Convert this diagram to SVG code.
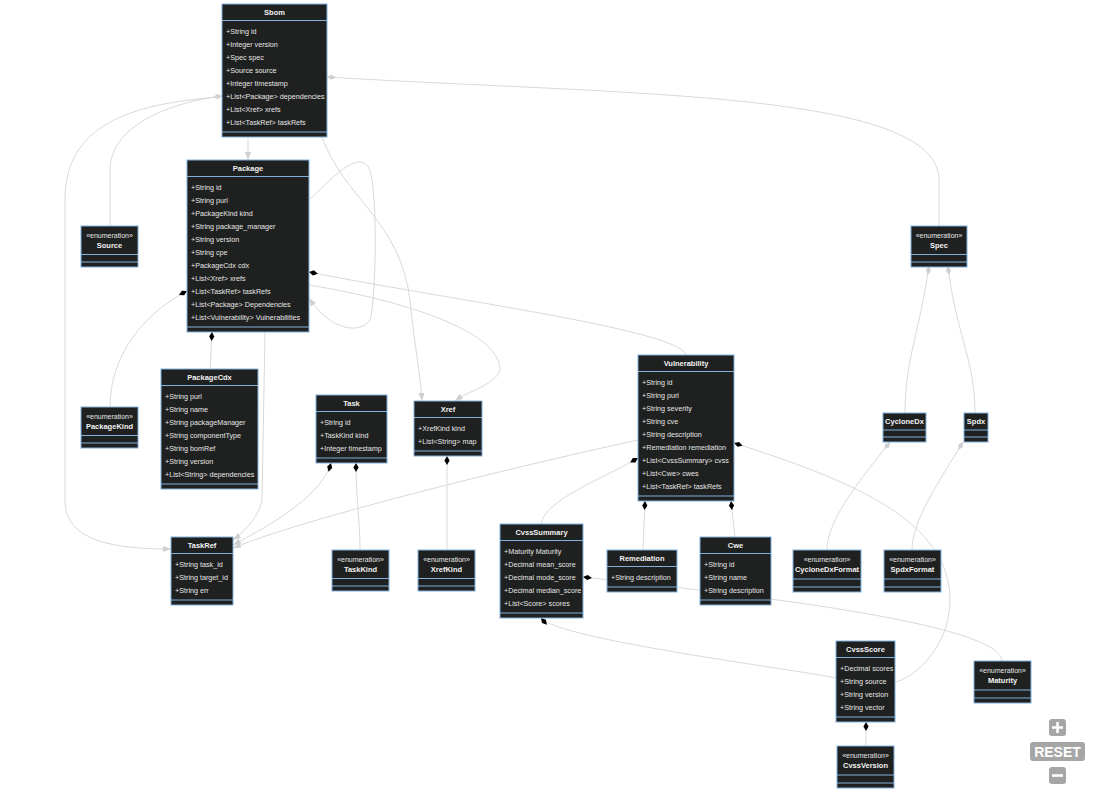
<svg xmlns="http://www.w3.org/2000/svg" width="1096" height="792" viewBox="0 0 1096 792">
<defs>
<style>
.box{fill:#1f2020;stroke:#81B1DB;stroke-width:1}
.dv{stroke:#81B1DB;stroke-width:1}
.t{font-family:"Liberation Sans",Arial,sans-serif;font-size:7.5px;font-weight:bold;fill:#f2f2f2;text-anchor:middle}
.s{font-family:"Liberation Sans",Arial,sans-serif;font-size:7px;fill:#e6e6e6;text-anchor:middle}
.a{font-family:"Liberation Sans",Arial,sans-serif;font-size:7.2px;fill:#e6e6e6}
.e{fill:none;stroke:#d9d9d9;stroke-width:1}
.comp{marker-start:url(#comp)}
.agg{marker-start:url(#agg)}
.arr{marker-end:url(#arr)}
.ctl{fill:#a6a6a6}
</style>
<marker id="comp" viewBox="-1 -4 12 8" refX="0" refY="0" markerWidth="12" markerHeight="8" markerUnits="userSpaceOnUse" orient="auto">
<path d="M0,0 L4.5,-2.6 L9,0 L4.5,2.6 Z" fill="#000"/>
</marker>
<marker id="agg" viewBox="-1 -4 12 8" refX="0" refY="0" markerWidth="12" markerHeight="8" markerUnits="userSpaceOnUse" orient="auto">
<path d="M0,0 L4.5,-2.6 L9,0 L4.5,2.6 Z" fill="#d0d0d0"/>
</marker>
<marker id="arr" viewBox="0 -4 9 8" refX="8" refY="0" markerWidth="9" markerHeight="8" markerUnits="userSpaceOnUse" orient="auto">
<path d="M0,-3 L8,0 L0,3 Z" fill="#cfcfcf"/>
</marker>
</defs>
<rect width="1096" height="792" fill="#fff"/>

<g id="connectors">
<path class="e agg" d="M222,96 C160,104 110,130 110,170 L110,226"/>
<path class="e" d="M218,97 C130,104 65,125 65,200 L65,500 C65,540 110,549 171,549" marker-end="url(#arr)"/>
<path class="e arr" d="M248,137 L248,160"/>
<path class="e agg" d="M327,77 C620,95 939,90 939,180 L939,226"/>
<path class="e arr" d="M322,137 C345,200 400,220 410,300 C415,350 420,370 422,401"/>
<path class="e arr" d="M309,200 C340,170 360,150 370,170 C378,200 376,300 370,320 C360,335 330,330 309,298"/>
<path class="e comp" d="M309,272 C450,300 680,330 686,355"/>
<path class="e arr" d="M309,285 C400,300 500,330 500,370 C495,385 470,390 455,401"/>
<path class="e comp" d="M187,291 C150,310 110,350 110,407"/>
<path class="e comp" d="M212,332 L210,369"/>
<path class="e arr" d="M265,332 L262,500 C258,520 240,535 233,540"/>
<path class="e comp arr" d="M331,463 C320,500 260,530 233,545"/>
<path class="e comp" d="M356,463 C356,500 360,520 360,550"/>
<path class="e comp" d="M447,456 L447,550"/>
<path class="e arr" d="M638,440 C500,470 300,520 233,548"/>
<path class="e comp" d="M638,458 C600,480 545,500 541,524"/>
<path class="e comp" d="M645,501 L643,550"/>
<path class="e comp" d="M731,501 L735,537"/>
<path class="e comp" d="M734,443 C850,480 950,520 950,600 C950,650 910,680 895,682"/>
<path class="e comp" d="M583,577 C700,590 1000,620 1002,661"/>
<path class="e comp" d="M541,618 C560,640 800,670 836,678"/>
<path class="e comp" d="M866,722 L866,746"/>
<path class="e agg" d="M929,266 C920,330 905,360 905,413"/>
<path class="e agg" d="M948,266 C955,330 975,360 975,413"/>
<path class="e agg" d="M890,442 C860,480 827,520 827,550"/>
<path class="e agg" d="M963,442 C940,480 912,520 912,550"/>
</g>

<g id="Sbom">
<rect class="box" x="222" y="4" width="105" height="133"/>
<text class="t" x="274.5" y="15">Sbom</text>
<line class="dv" x1="222" y1="20.5" x2="327" y2="20.5"/>
<text class="a" x="226" y="33.5">+String id</text>
<text class="a" x="226" y="46.5">+Integer version</text>
<text class="a" x="226" y="59.5">+Spec spec</text>
<text class="a" x="226" y="72.5">+Source source</text>
<text class="a" x="226" y="85.5">+Integer timestamp</text>
<text class="a" x="226" y="98.5">+List&lt;Package&gt; dependencies</text>
<text class="a" x="226" y="111.5">+List&lt;Xref&gt; xrefs</text>
<text class="a" x="226" y="124.5">+List&lt;TaskRef&gt; taskRefs</text>
<line class="dv" x1="222" y1="132" x2="327" y2="132"/>
</g>

<g id="Package">
<rect class="box" x="187" y="160" width="122" height="172"/>
<text class="t" x="248" y="171">Package</text>
<line class="dv" x1="187" y1="176.5" x2="309" y2="176.5"/>
<text class="a" x="191" y="189.5">+String id</text>
<text class="a" x="191" y="202.5">+String purl</text>
<text class="a" x="191" y="215.5">+PackageKind kind</text>
<text class="a" x="191" y="228.5">+String package_manager</text>
<text class="a" x="191" y="241.5">+String version</text>
<text class="a" x="191" y="254.5">+String cpe</text>
<text class="a" x="191" y="267.5">+PackageCdx cdx</text>
<text class="a" x="191" y="280.5">+List&lt;Xref&gt; xrefs</text>
<text class="a" x="191" y="293.5">+List&lt;TaskRef&gt; taskRefs</text>
<text class="a" x="191" y="306.5">+List&lt;Package&gt; Dependencies</text>
<text class="a" x="191" y="319.5">+List&lt;Vulnerability&gt; Vulnerabilities</text>
<line class="dv" x1="187" y1="327" x2="309" y2="327"/>
</g>

<g id="Source">
<rect class="box" x="81" y="226" width="57" height="41"/>
<text class="s" x="109.5" y="237.5">«enumeration»</text>
<text class="t" x="109.5" y="248">Source</text>
<line class="dv" x1="81" y1="254.5" x2="138" y2="254.5"/>
<line class="dv" x1="81" y1="262" x2="138" y2="262"/>
</g>

<g id="Spec">
<rect class="box" x="911" y="226" width="56" height="41"/>
<text class="s" x="939" y="237.5">«enumeration»</text>
<text class="t" x="939" y="248">Spec</text>
<line class="dv" x1="911" y1="254.5" x2="967" y2="254.5"/>
<line class="dv" x1="911" y1="262" x2="967" y2="262"/>
</g>

<g id="PackageKind">
<rect class="box" x="81" y="407" width="57" height="41"/>
<text class="s" x="109.5" y="418.5">«enumeration»</text>
<text class="t" x="109.5" y="429">PackageKind</text>
<line class="dv" x1="81" y1="435.5" x2="138" y2="435.5"/>
<line class="dv" x1="81" y1="443" x2="138" y2="443"/>
</g>

<g id="PackageCdx">
<rect class="box" x="161" y="369" width="97" height="120"/>
<text class="t" x="209.5" y="380">PackageCdx</text>
<line class="dv" x1="161" y1="385.5" x2="258" y2="385.5"/>
<text class="a" x="165" y="398.5">+String purl</text>
<text class="a" x="165" y="411.5">+String name</text>
<text class="a" x="165" y="424.5">+String packageManager</text>
<text class="a" x="165" y="437.5">+String componentType</text>
<text class="a" x="165" y="450.5">+String bomRef</text>
<text class="a" x="165" y="463.5">+String version</text>
<text class="a" x="165" y="476.5">+List&lt;String&gt; dependencies</text>
<line class="dv" x1="161" y1="484" x2="258" y2="484"/>
</g>

<g id="Task">
<rect class="box" x="316" y="395" width="71" height="68"/>
<text class="t" x="351.5" y="406">Task</text>
<line class="dv" x1="316" y1="411.5" x2="387" y2="411.5"/>
<text class="a" x="320" y="424.5">+String id</text>
<text class="a" x="320" y="437.5">+TaskKind kind</text>
<text class="a" x="320" y="450.5">+Integer timestamp</text>
<line class="dv" x1="316" y1="458" x2="387" y2="458"/>
</g>

<g id="Xref">
<rect class="box" x="414" y="401" width="68" height="55"/>
<text class="t" x="448" y="412">Xref</text>
<line class="dv" x1="414" y1="417.5" x2="482" y2="417.5"/>
<text class="a" x="418" y="430.5">+XrefKind kind</text>
<text class="a" x="418" y="443.5">+List&lt;String&gt; map</text>
<line class="dv" x1="414" y1="451" x2="482" y2="451"/>
</g>

<g id="Vulnerability">
<rect class="box" x="638" y="355" width="96" height="146"/>
<text class="t" x="686" y="366">Vulnerability</text>
<line class="dv" x1="638" y1="371.5" x2="734" y2="371.5"/>
<text class="a" x="642" y="384.5">+String id</text>
<text class="a" x="642" y="397.5">+String purl</text>
<text class="a" x="642" y="410.5">+String severity</text>
<text class="a" x="642" y="423.5">+String cve</text>
<text class="a" x="642" y="436.5">+String description</text>
<text class="a" x="642" y="449.5">+Remediation remediation</text>
<text class="a" x="642" y="462.5">+List&lt;CvssSummary&gt; cvss</text>
<text class="a" x="642" y="475.5">+List&lt;Cwe&gt; cwes</text>
<text class="a" x="642" y="488.5">+List&lt;TaskRef&gt; taskRefs</text>
<line class="dv" x1="638" y1="496" x2="734" y2="496"/>
</g>

<g id="CycloneDx">
<rect class="box" x="883" y="413" width="43" height="29"/>
<text class="t" x="904.5" y="424">CycloneDx</text>
<line class="dv" x1="883" y1="430" x2="926" y2="430"/>
<line class="dv" x1="883" y1="437" x2="926" y2="437"/>
</g>

<g id="Spdx">
<rect class="box" x="964" y="413" width="24" height="29"/>
<text class="t" x="976" y="424">Spdx</text>
<line class="dv" x1="964" y1="430" x2="988" y2="430"/>
<line class="dv" x1="964" y1="437" x2="988" y2="437"/>
</g>

<g id="TaskRef">
<rect class="box" x="171" y="537" width="62" height="68"/>
<text class="t" x="202" y="548">TaskRef</text>
<line class="dv" x1="171" y1="553.5" x2="233" y2="553.5"/>
<text class="a" x="175" y="566.5">+String task_id</text>
<text class="a" x="175" y="579.5">+String target_id</text>
<text class="a" x="175" y="592.5">+String err</text>
<line class="dv" x1="171" y1="600" x2="233" y2="600"/>
</g>

<g id="TaskKind">
<rect class="box" x="332" y="550" width="57" height="41"/>
<text class="s" x="360.5" y="561.5">«enumeration»</text>
<text class="t" x="360.5" y="572">TaskKind</text>
<line class="dv" x1="332" y1="578.5" x2="389" y2="578.5"/>
<line class="dv" x1="332" y1="586" x2="389" y2="586"/>
</g>

<g id="XrefKind">
<rect class="box" x="418" y="550" width="57" height="41"/>
<text class="s" x="446.5" y="561.5">«enumeration»</text>
<text class="t" x="446.5" y="572">XrefKind</text>
<line class="dv" x1="418" y1="578.5" x2="475" y2="578.5"/>
<line class="dv" x1="418" y1="586" x2="475" y2="586"/>
</g>

<g id="CvssSummary">
<rect class="box" x="500" y="524" width="83" height="94"/>
<text class="t" x="541.5" y="535">CvssSummary</text>
<line class="dv" x1="500" y1="540.5" x2="583" y2="540.5"/>
<text class="a" x="504" y="553.5">+Maturity Maturity</text>
<text class="a" x="504" y="566.5">+Decimal mean_score</text>
<text class="a" x="504" y="579.5">+Decimal mode_score</text>
<text class="a" x="504" y="592.5">+Decimal median_score</text>
<text class="a" x="504" y="605.5">+List&lt;Score&gt; scores</text>
<line class="dv" x1="500" y1="613" x2="583" y2="613"/>
</g>

<g id="Remediation">
<rect class="box" x="607" y="550" width="70" height="42"/>
<text class="t" x="642" y="561">Remediation</text>
<line class="dv" x1="607" y1="566.5" x2="677" y2="566.5"/>
<text class="a" x="611" y="579.5">+String description</text>
<line class="dv" x1="607" y1="587" x2="677" y2="587"/>
</g>

<g id="Cwe">
<rect class="box" x="700" y="537" width="71" height="68"/>
<text class="t" x="735.5" y="548">Cwe</text>
<line class="dv" x1="700" y1="553.5" x2="771" y2="553.5"/>
<text class="a" x="704" y="566.5">+String id</text>
<text class="a" x="704" y="579.5">+String name</text>
<text class="a" x="704" y="592.5">+String description</text>
<line class="dv" x1="700" y1="600" x2="771" y2="600"/>
</g>

<g id="CycloneDxFormat">
<rect class="box" x="793" y="550" width="68" height="42"/>
<text class="s" x="827" y="561.5">«enumeration»</text>
<text class="t" x="827" y="572">CycloneDxFormat</text>
<line class="dv" x1="793" y1="579" x2="861" y2="579"/>
<line class="dv" x1="793" y1="587" x2="861" y2="587"/>
</g>

<g id="SpdxFormat">
<rect class="box" x="884" y="550" width="57" height="42"/>
<text class="s" x="912.5" y="561.5">«enumeration»</text>
<text class="t" x="912.5" y="572">SpdxFormat</text>
<line class="dv" x1="884" y1="579" x2="941" y2="579"/>
<line class="dv" x1="884" y1="587" x2="941" y2="587"/>
</g>

<g id="CvssScore">
<rect class="box" x="836" y="641" width="59" height="81"/>
<text class="t" x="865.5" y="652">CvssScore</text>
<line class="dv" x1="836" y1="657.5" x2="895" y2="657.5"/>
<text class="a" x="840" y="670.5">+Decimal scores</text>
<text class="a" x="840" y="683.5">+String source</text>
<text class="a" x="840" y="696.5">+String version</text>
<text class="a" x="840" y="709.5">+String vector</text>
<line class="dv" x1="836" y1="717" x2="895" y2="717"/>
</g>

<g id="Maturity">
<rect class="box" x="974" y="661" width="57" height="42"/>
<text class="s" x="1002.5" y="672.5">«enumeration»</text>
<text class="t" x="1002.5" y="683">Maturity</text>
<line class="dv" x1="974" y1="690" x2="1031" y2="690"/>
<line class="dv" x1="974" y1="698" x2="1031" y2="698"/>
</g>

<g id="CvssVersion">
<rect class="box" x="837" y="746" width="57" height="42"/>
<text class="s" x="865.5" y="757.5">«enumeration»</text>
<text class="t" x="865.5" y="768">CvssVersion</text>
<line class="dv" x1="837" y1="775" x2="894" y2="775"/>
<line class="dv" x1="837" y1="783" x2="894" y2="783"/>
</g>

<g id="zoom-controls">
<rect class="ctl" x="1049" y="719" width="17" height="17" rx="3"/>
<path d="M1057.5,722 V733 M1052,727.5 H1063" stroke="#fff" stroke-width="2.6"/>
<rect class="ctl" x="1030" y="742" width="55" height="19" rx="3"/>
<text x="1057.5" y="757" text-anchor="middle" font-family="'Liberation Sans',Arial,sans-serif" font-size="14" font-weight="bold" fill="#fff">RESET</text>
<rect class="ctl" x="1049" y="767" width="17" height="17" rx="3"/>
<path d="M1052,775.5 H1063" stroke="#fff" stroke-width="2.6"/>
</g>
</svg>
